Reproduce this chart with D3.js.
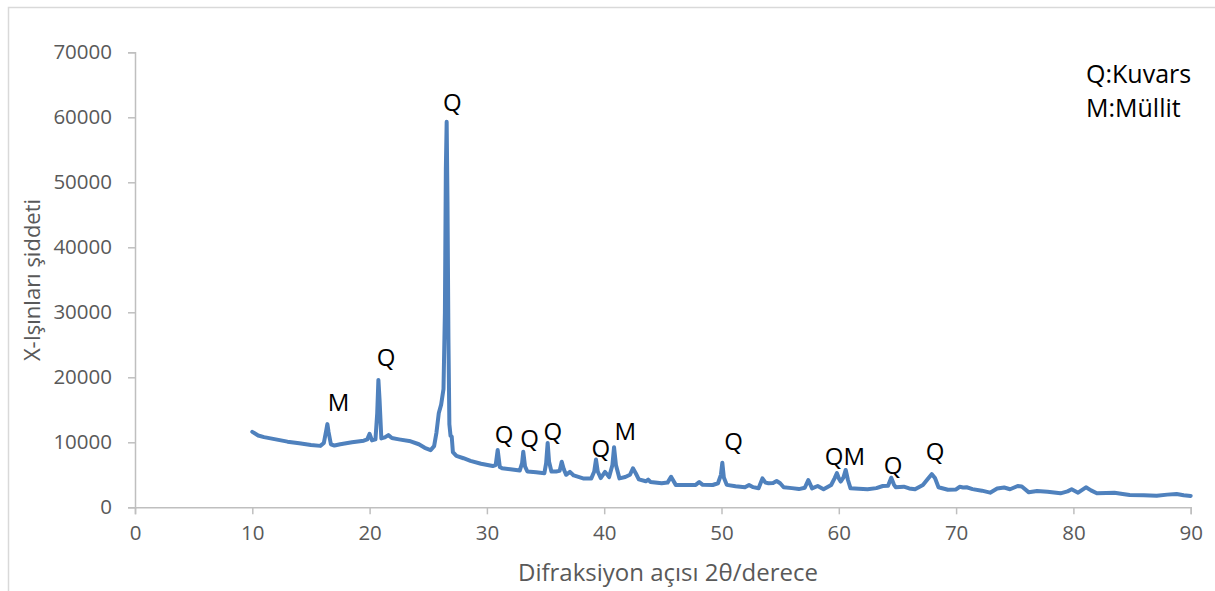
<!DOCTYPE html>
<html>
<head>
<meta charset="utf-8">
<script src="https://cdn.jsdelivr.net/npm/d3@7"></script>
<style>
  body { margin: 0; background: #fff; }
  svg { display: block; font-family: "Open Sans", "Noto Sans", sans-serif; }
</style>
</head>
<body>
<div id="chart"></div>
<script>
// 2θ (degrees) and intensity
const twoTheta = [
  10, 10.5, 11, 12, 13, 14, 15, 15.8, 16.1, 16.3, 16.4, 16.5, 16.7, 17, 17.5, 18.5, 19.5, 19.8, 20.0, 20.2,
  20.5, 20.65, 20.75, 20.85, 21.0, 21.3, 21.6, 21.9, 22.5, 23.5, 24.2, 24.7, 25.2, 25.5, 25.7, 25.9,
  26.1, 26.3, 26.42, 26.5, 26.57, 26.64, 26.72, 26.8, 26.9, 27.0, 27.1, 27.4, 28.0, 28.6, 29.5, 30.5, 30.75,
  30.92, 31.1, 31.3, 32.0, 32.8, 33.0, 33.1, 33.25, 33.45, 34.2, 34.9, 35.05, 35.18, 35.3, 35.5, 35.9,
  36.2, 36.38, 36.55, 36.75, 37.08, 37.4, 38.2, 38.9, 39.15, 39.3, 39.45, 39.7, 40.07, 40.42, 40.7, 40.84,
  41.0, 41.3, 41.8, 42.2, 42.45, 42.7, 42.95, 43.55, 43.75, 43.95, 44.9, 45.4, 45.7, 46.1, 47.0, 47.8,
  48.1, 48.4, 49.25, 49.7, 49.95, 50.07, 50.2, 50.45, 51.2, 52.0, 52.35, 52.7, 53.16, 53.49, 53.75, 54.0,
  54.4, 54.7, 55.0, 55.3, 56.0, 56.6, 57.1, 57.4, 57.72, 58.2, 58.7, 59.35, 59.65, 59.84, 60.02, 60.16,
  60.4, 60.59, 60.78, 61.0, 61.7, 62.45, 63.2, 63.75, 64.2, 64.47, 64.7, 64.85, 65.54, 66.0, 66.5, 67.17,
  67.6, 67.92, 68.2, 68.5, 69.3, 70.0, 70.3, 70.6, 70.9, 71.4, 72.2, 72.9, 73.5, 74.1, 74.6, 75.25, 75.6,
  76.2, 76.9, 77.8, 78.9, 79.5, 79.85, 80.4, 81.07, 81.5, 82.0, 82.8, 83.5, 84.2, 84.8, 86.0, 87.1, 88.0,
  88.8, 89.4, 90.0
];
const intensity = [
  11600, 11050, 10800, 10450, 10100, 9850, 9600, 9450, 9900, 11800, 12800, 11600, 9700, 9500, 9700, 10000, 10250, 10450, 11300, 10300,
  10450, 14500, 19600, 16500, 10600, 10750, 11100, 10650, 10450, 10150, 9700, 9150, 8800, 9400, 11500, 14500,
  15800, 18200, 30000, 52000, 59300, 47000, 26000, 12800, 11000, 10900, 8500, 7900, 7550, 7150, 6700, 6350, 6500,
  8800, 6200, 6000, 5850, 5650, 6800, 8550, 6300, 5500, 5400, 5250, 6800, 9900, 7000, 5500, 5500,
  5600, 7000, 5900, 5000, 5450, 4900, 4450, 4450, 5500, 7350, 5500, 4500, 5450, 4650, 6500, 9250,
  6500, 4450, 4650, 5000, 6000, 5200, 4300, 4000, 4250, 3900, 3700, 3800, 4700, 3450, 3450, 3450,
  3900, 3450, 3430, 3700, 5000, 6850, 4600, 3450, 3250, 3080, 3430, 3100, 2920, 4450, 3800, 3700,
  3750, 4050, 3700, 3080, 2950, 2800, 3000, 4200, 2920, 3280, 2780, 3430, 4500, 5250, 4400, 3950,
  4600, 5750, 4200, 2920, 2850, 2770, 2950, 3280, 3300, 4550, 3500, 3080, 3170, 2900, 2770, 3430,
  4400, 5100, 4500, 3080, 2700, 2750, 3150, 3050, 3080, 2800, 2560, 2250, 2900, 3050, 2780, 3280, 3200,
  2300, 2500, 2400, 2150, 2450, 2770, 2250, 3080, 2600, 2150, 2200, 2250, 2050, 1890, 1850, 1790, 1950,
  2050, 1850, 1750
];

// peak labels: text, 2θ position, intensity at baseline
const peakText = ["M", "Q", "Q", "Q", "Q", "Q", "Q", "M", "Q", "QM", "Q", "Q"];
const peakX = [17.35, 21.4, 27.05, 31.46, 33.63, 35.62, 39.71, 41.8, 51.04, 60.52, 64.63, 68.2];
const peakY = [14800, 21700, 60950, 9890, 9270, 10350, 7740, 10350, 8810, 6500, 5120, 7270];

const legendLines = ["Q:Kuvars", "M:Müllit"];
const xTicks = [0, 10, 20, 30, 40, 50, 60, 70, 80, 90];
const yTicks = [0, 10000, 20000, 30000, 40000, 50000, 60000, 70000];

const width = 1215;
const height = 591;
const margin = { top: 52.3, right: 24.3, bottom: 83.7, left: 135 };

const svg = d3.select("#chart").append("svg")
  .attr("width", width)
  .attr("height", height);

// outer chart border (cut by the image on the right and bottom)
svg.append("rect")
  .attr("x", 8.5).attr("y", 7.5)
  .attr("width", 1400).attr("height", 800)
  .attr("fill", "none")
  .attr("stroke", "#d9d9d9")
  .attr("stroke-width", 1.5);

const x = d3.scaleLinear()
  .domain([0, 90])
  .range([margin.left, width - margin.right]);

const y = d3.scaleLinear()
  .domain([0, 70000])
  .range([height - margin.bottom, margin.top]);

// y axis
const yAxis = svg.append("g")
  .attr("transform", `translate(${margin.left},0)`)
  .call(d3.axisLeft(y).tickValues(yTicks).tickSize(7).tickPadding(16).tickFormat(d3.format("d")));

// x axis
const xAxis = svg.append("g")
  .attr("transform", `translate(0,${height - margin.bottom})`)
  .call(d3.axisBottom(x).tickValues(xTicks).tickSize(7).tickPadding(11).tickFormat(d3.format("d")));

[yAxis, xAxis].forEach(g => {
  g.select(".domain").attr("stroke", "#bfbfbf").attr("stroke-width", 1.5);
  g.selectAll(".tick line").attr("stroke", "#bfbfbf").attr("stroke-width", 1.5);
  g.selectAll(".tick text")
    .attr("fill", "#595959")
    .style("font-size", "20.5px")
    .style("font-family", "\"Open Sans\", sans-serif");
});

// pattern
const pts = twoTheta.map((t, i) => [t, intensity[i]]);
svg.append("path")
  .datum(pts)
  .attr("fill", "none")
  .attr("stroke", "#4f81bd")
  .attr("stroke-width", 4)
  .attr("stroke-linejoin", "round")
  .attr("stroke-linecap", "round")
  .attr("d", d3.line().x(d => x(d[0])).y(d => y(d[1])));

// peak labels
svg.selectAll(".peak")
  .data(peakText)
  .enter()
  .append("text")
  .attr("class", "peak")
  .attr("x", (d, i) => x(peakX[i]))
  .attr("y", (d, i) => y(peakY[i]))
  .attr("text-anchor", "middle")
  .attr("fill", "#000")
  .style("font-size", "24px")
  .text(d => d);

// legend text
svg.selectAll(".legend")
  .data(legendLines)
  .enter()
  .append("text")
  .attr("class", "legend")
  .attr("x", 1086)
  .attr("y", (d, i) => 83 + i * 34)
  .attr("fill", "#000")
  .style("font-size", "25px")
  .text(d => d);

// axis titles
svg.append("text")
  .attr("transform", "translate(40,280) rotate(-90)")
  .attr("text-anchor", "middle")
  .attr("fill", "#595959")
  .style("font-size", "22px")
  .text("X-Işınları şiddeti");

svg.append("text")
  .attr("x", 668)
  .attr("y", 581)
  .attr("text-anchor", "middle")
  .attr("fill", "#595959")
  .style("font-size", "24px")
  .text("Difraksiyon açısı 2θ/derece");
</script>
</body>
</html>
